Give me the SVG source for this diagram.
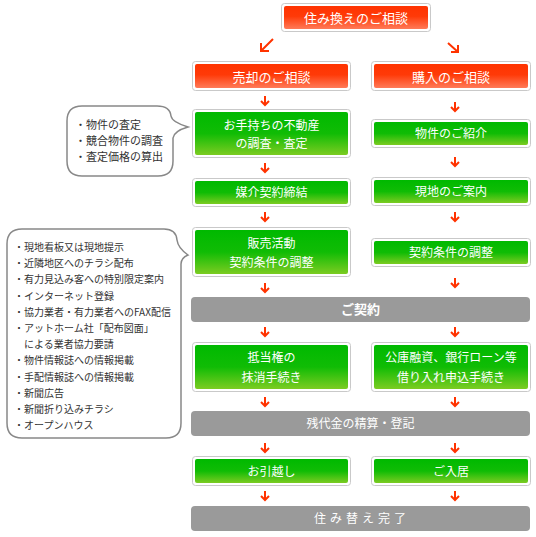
<svg xmlns="http://www.w3.org/2000/svg" width="536" height="537" viewBox="0 0 536 537">
<defs>
<linearGradient id="gr" x1="0" y1="0" x2="0" y2="1">
<stop offset="0" stop-color="#ff3300"/><stop offset="0.45" stop-color="#ff3a08"/><stop offset="1" stop-color="#ff7a58"/>
</linearGradient>
<linearGradient id="gg" x1="0" y1="0" x2="0" y2="1">
<stop offset="0" stop-color="#00b900"/><stop offset="0.5" stop-color="#10bc05"/><stop offset="1" stop-color="#7ccc22"/>
</linearGradient>
<style>
.o{fill:#fff;stroke:#c9c9c9;stroke-width:1}
.r{fill:url(#gr)}
.g{fill:url(#gg)}
.bar{fill:#9a9a9a}
.t{font-family:"Noto Sans CJK JP","Noto Sans",sans-serif;fill:#fff;text-anchor:middle}
.t13{font-size:13px}
.t12{font-size:12px}
.b{fill:#fff;stroke:#888;stroke-width:1.5}
.bt{font-family:"Noto Sans CJK JP","Noto Sans",sans-serif;fill:#333;font-size:10px}
.bt11{font-size:11px}
.ar{fill:none;stroke:#ff3300;stroke-width:2}
</style>
</defs>
<g id="connectors">
<path class="ar" d="M273,39 L261,51 M261,43 V51 H269" stroke-width="2.5"/>
<path class="ar" d="M448,43 L458,52 M458,45 V52 H451" stroke-width="2.5"/>
<path class="ar" d="M265,96 V105 M261,101 L265,105 L269,101"/>
<path class="ar" d="M455,102 V111 M451,107 L455,111 L459,107"/>
<path class="ar" d="M265,163 V172 M261,168 L265,172 L269,168"/>
<path class="ar" d="M455,157 V166 M451,162 L455,166 L459,162"/>
<path class="ar" d="M265,212 V221 M261,217 L265,221 L269,217"/>
<path class="ar" d="M455,212 V221 M451,217 L455,221 L459,217"/>
<path class="ar" d="M265,283 V292 M261,288 L265,292 L269,288"/>
<path class="ar" d="M455,278 V287 M451,283 L455,287 L459,283"/>
<path class="ar" d="M265,327 V336 M261,332 L265,336 L269,332"/>
<path class="ar" d="M455,327 V336 M451,332 L455,336 L459,332"/>
<path class="ar" d="M265,397 V406 M261,402 L265,406 L269,402"/>
<path class="ar" d="M455,397 V406 M451,402 L455,406 L459,402"/>
<path class="ar" d="M265,443 V452 M261,448 L265,452 L269,448"/>
<path class="ar" d="M455,443 V452 M451,448 L455,452 L459,448"/>
<path class="ar" d="M265,491 V500 M261,496 L265,500 L269,496"/>
<path class="ar" d="M455,491 V500 M451,496 L455,500 L459,496"/>
</g>
<g id="n-top">
<rect class="o" x="281.5" y="3.5" width="149" height="28" rx="3"/>
<rect class="r" x="284" y="6" width="144" height="23" rx="2"/>
<text class="t t13" x="356" y="22.5">住み換えのご相談</text>
</g>
<g id="n-sale">
<rect class="o" x="192.5" y="61.5" width="158" height="29" rx="3"/>
<rect class="r" x="195" y="64" width="153" height="24" rx="2"/>
<text class="t t13" x="271.5" y="81.5">売却のご相談</text>
</g>
<g id="n-buy">
<rect class="o" x="371.5" y="61.5" width="159" height="29" rx="3"/>
<rect class="r" x="374" y="64" width="154" height="24" rx="2"/>
<text class="t t13" x="451" y="81.5">購入のご相談</text>
</g>
<g id="n-survey">
<rect class="o" x="192.5" y="109.5" width="158" height="48" rx="3"/>
<rect class="g" x="195" y="112" width="153" height="43" rx="2"/>
<text class="t t12" x="271.5" y="129.5">お手持ちの不動産</text>
<text class="t t12" x="271.5" y="147.5">の調査・査定</text>
</g>
<g id="n-intro">
<rect class="o" x="371.5" y="119.5" width="159" height="28" rx="3"/>
<rect class="g" x="374" y="122" width="154" height="23" rx="2"/>
<text class="t t12" x="451" y="138">物件のご紹介</text>
</g>
<g id="n-mediation">
<rect class="o" x="192.5" y="178.5" width="158" height="28" rx="3"/>
<rect class="g" x="195" y="181" width="153" height="23" rx="2"/>
<text class="t t12" x="271.5" y="197">媒介契約締結</text>
</g>
<g id="n-guide">
<rect class="o" x="371.5" y="177.5" width="159" height="28" rx="3"/>
<rect class="g" x="374" y="180" width="154" height="23" rx="2"/>
<text class="t t12" x="451" y="196">現地のご案内</text>
</g>
<g id="n-sales">
<rect class="o" x="192.5" y="227.5" width="158" height="49" rx="3"/>
<rect class="g" x="195" y="230" width="153" height="44" rx="2"/>
<text class="t t12" x="271.5" y="247.5">販売活動</text>
<text class="t t12" x="271.5" y="266.5">契約条件の調整</text>
</g>
<g id="n-terms">
<rect class="o" x="371.5" y="238.5" width="159" height="28" rx="3"/>
<rect class="g" x="374" y="241" width="154" height="23" rx="2"/>
<text class="t t12" x="451" y="257">契約条件の調整</text>
</g>
<g id="n-contract">
<rect class="bar" x="191" y="297" width="339" height="25" rx="4"/>
<text class="t t13" x="360.5" y="314" font-weight="bold">ご契約</text>
</g>
<g id="n-mortgage">
<rect class="o" x="192.5" y="342.5" width="158" height="49" rx="3"/>
<rect class="g" x="195" y="345" width="153" height="44" rx="2"/>
<text class="t t12" x="271.5" y="361.5">抵当権の</text>
<text class="t t12" x="271.5" y="381.5">抹消手続き</text>
</g>
<g id="n-loan">
<rect class="o" x="371.5" y="342.5" width="159" height="49" rx="3"/>
<rect class="g" x="374" y="345" width="154" height="44" rx="2"/>
<text class="t t12" x="451" y="361.5">公庫融資、銀行ローン等</text>
<text class="t t12" x="451" y="381.5">借り入れ申込手続き</text>
</g>
<g id="n-settle">
<rect class="bar" x="191" y="411" width="339" height="25" rx="4"/>
<text class="t t12" x="360.5" y="428">残代金の精算・登記</text>
</g>
<g id="n-move">
<rect class="o" x="192.5" y="456.5" width="158" height="29" rx="3"/>
<rect class="g" x="195" y="459" width="153" height="24" rx="2"/>
<text class="t t12" x="271.5" y="476">お引越し</text>
</g>
<g id="n-movein">
<rect class="o" x="371.5" y="456.5" width="159" height="29" rx="3"/>
<rect class="g" x="374" y="459" width="154" height="24" rx="2"/>
<text class="t t12" x="451" y="476">ご入居</text>
</g>
<g id="n-done">
<rect class="bar" x="191" y="506" width="339" height="25" rx="4"/>
<text class="t t12" x="362" y="523" letter-spacing="4">住み替え完了</text>
</g>
<g id="bubble-1">
<path class="b" d="M82,106 H157 Q170,106 171,116 Q172,122 188,127 Q174,131 173,138 V161 Q173,176 158,176 H82 Q67,176 67,161 V121 Q67,106 82,106 Z"/>
<text class="bt bt11" x="75" y="129">・物件の査定</text>
<text class="bt bt11" x="75" y="145">・競合物件の調査</text>
<text class="bt bt11" x="75" y="161">・査定価格の算出</text>
</g>
<g id="bubble-2">
<path class="b" d="M22,229 H164 Q176,229 177,240 Q178,248 188,255 Q181,258 181,264 V423 Q181,438 166,438 H22 Q7,438 7,423 V244 Q7,229 22,229 Z"/>
<text class="bt" x="14" y="251">・現地看板又は現地提示</text>
<text class="bt" x="14" y="267.2">・近隣地区へのチラシ配布</text>
<text class="bt" x="14" y="283.4">・有力見込み客への特別限定案内</text>
<text class="bt" x="14" y="299.6">・インターネット登録</text>
<text class="bt" x="14" y="315.8">・協力業者・有力業者へのFAX配信</text>
<text class="bt" x="14" y="332">・アットホーム社「配布図面」</text>
<text class="bt" x="24" y="348.2">による業者協力要請</text>
<text class="bt" x="14" y="364.4">・物件情報誌への情報掲載</text>
<text class="bt" x="14" y="380.6">・手配情報誌への情報掲載</text>
<text class="bt" x="14" y="396.8">・新聞広告</text>
<text class="bt" x="14" y="413">・新聞折り込みチラシ</text>
<text class="bt" x="14" y="429.2">・オープンハウス</text>
</g>
</svg>
